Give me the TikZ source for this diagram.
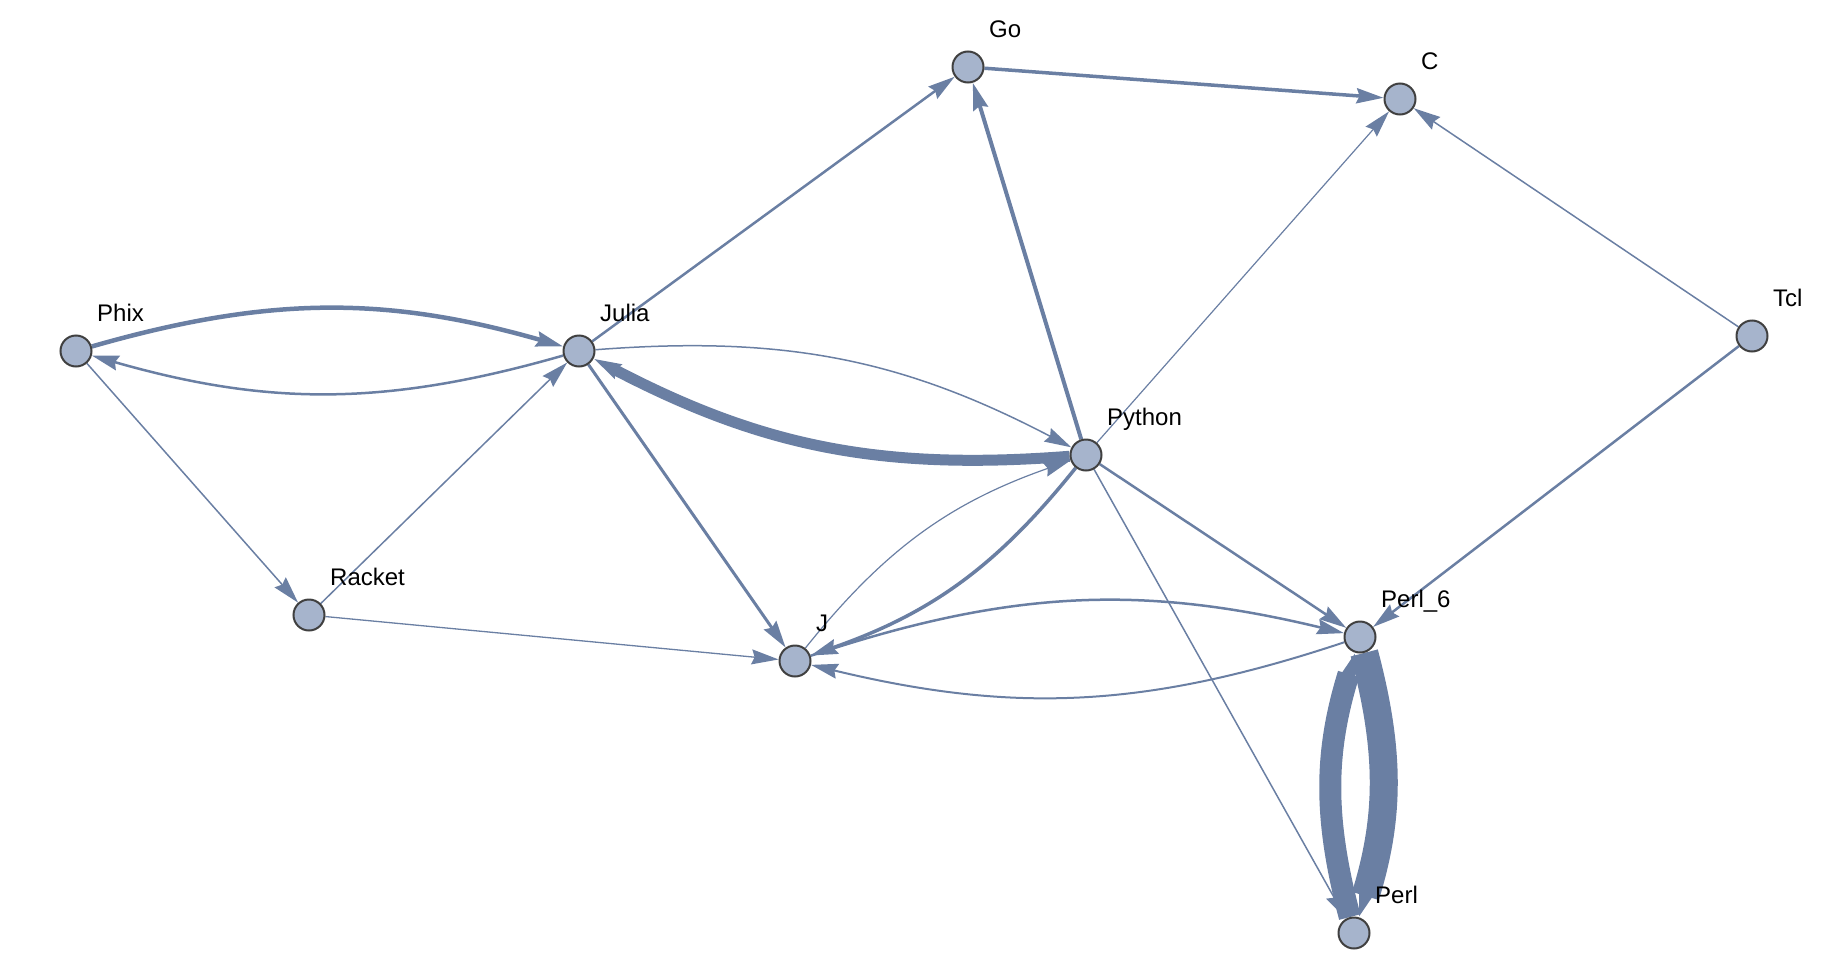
\documentclass[tikz,border=0pt]{standalone}
\usepackage{fontspec}
\setmainfont{Liberation Sans}
\usetikzlibrary{arrows.meta,backgrounds}
\definecolor{edgec}{RGB}{106,127,163}
\definecolor{nodef}{RGB}{166,180,204}
\definecolor{nodeb}{RGB}{64,64,64}
\begin{document}
\begin{tikzpicture}[x=1pt,y=1pt,
  vtx/.style={circle, fill=nodef, draw=nodeb, line width=2pt, minimum size=31pt, inner sep=0pt},
  lbl/.style={anchor=base west, inner sep=0pt, font=\fontsize{24}{28}\selectfont},
  edge/.style={draw=edgec, -{Stealth[length=27pt,width=15pt,inset=3pt]}},
]
\useasboundingbox (0,0) rectangle (1840,-972);
\node[vtx] (Phix)   at (76,-351) {};
\node[vtx] (Julia)  at (579,-351) {};
\node[vtx] (Racket) at (309,-615) {};
\node[vtx] (Go)     at (968,-67) {};
\node[vtx] (C)      at (1400,-99) {};
\node[vtx] (Tcl)    at (1752,-336) {};
\node[vtx] (Python) at (1086,-455) {};
\node[vtx] (J)      at (795,-661) {};
\node[vtx] (Perl6)  at (1360,-637) {};
\node[vtx] (Perl)   at (1354,-933) {};
\foreach \n/\t in {Phix/Phix, Julia/Julia, Racket/Racket, Go/Go, C/C, Tcl/Tcl, Python/Python, J/J, Perl6/Perl\_6, Perl/Perl}
  \node[lbl] (l\n) at ([shift={(21,30)}]\n.center) {\t};
\begin{scope}[on background layer]
\draw[edge, line width=4.5pt] (Phix) to[bend left=16] (Julia);
\draw[edge, line width=2.5pt] (Julia) to[bend left=16] (Phix);
\draw[edge, line width=1.5pt] (Phix) -- (Racket);
\draw[edge, line width=1.5pt] (Racket) -- (Julia);
\draw[edge, line width=1.3pt] (Racket) -- (J);
\draw[edge, line width=2.5pt] (Julia) -- (Go);
\draw[edge, line width=1.5pt] (Julia) to[bend left=16] (Python);
\draw[edge, line width=11pt] (Python) to[bend left=16] (Julia);
\draw[edge, line width=3pt] (Julia) -- (J);
\draw[edge, line width=3.5pt] (Go) -- (C);
\draw[edge, line width=4pt] (Python) -- (Go);
\draw[edge, line width=1.2pt] (Python) -- (C);
\draw[edge, line width=1.5pt] (Tcl) -- (C);
\draw[edge, line width=2.5pt] (Tcl) -- (Perl6);
\draw[edge, line width=1.2pt] (J) to[bend left=16] (Python);
\draw[edge, line width=3.5pt] (Python) to[bend left=16] (J);
\draw[edge, line width=2.5pt] (Python) -- (Perl6);
\draw[edge, line width=1.5pt] (Python) -- (Perl);
\draw[edge, line width=2.5pt] (J) to[bend left=16] (Perl6);
\draw[edge, line width=2pt] (Perl6) to[bend left=16] (J);
\draw[edge, line width=28pt] (Perl6) to[bend left=16] (Perl);
\draw[edge, line width=22pt] (Perl) to[bend left=16] (Perl6);
\end{scope}
\end{tikzpicture}
\end{document}
